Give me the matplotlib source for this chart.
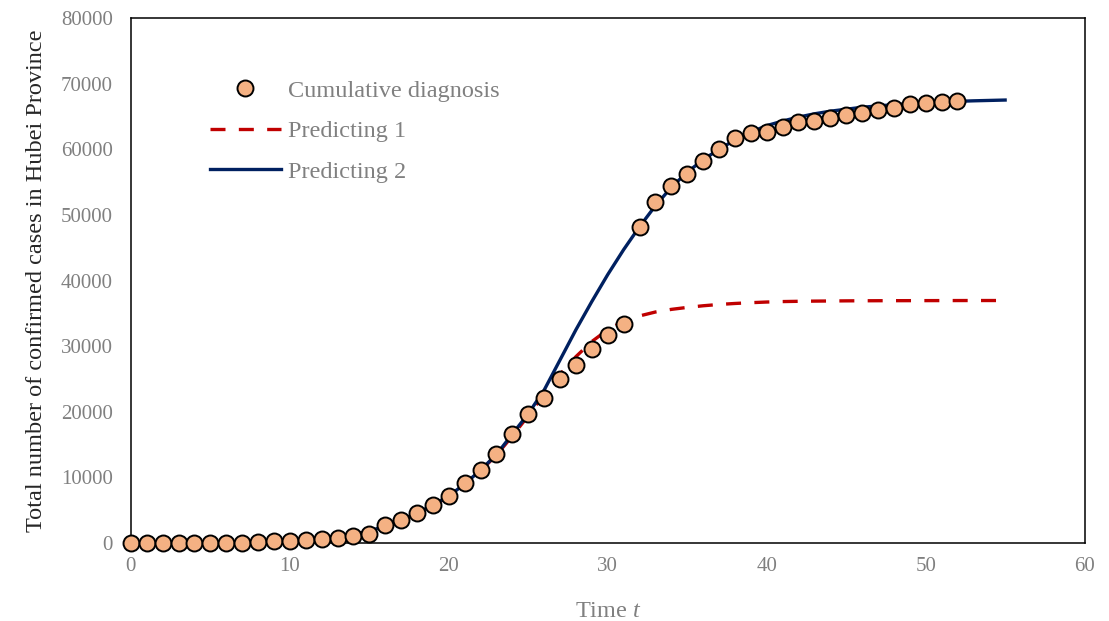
import matplotlib
matplotlib.use("Agg")
import matplotlib.pyplot as plt

# ---- data ----
days = list(range(0, 53))
cumulative = [41, 41, 41, 41, 41, 41, 45, 62, 198, 270, 375, 444, 549, 729, 1052,
              1423, 2714, 3554, 4586, 5806, 7153, 9074, 11177, 13522, 16678, 19665,
              22112, 24953, 27100, 29631, 31728, 33366, 48206, 51986, 54406, 56249,
              58182, 59989, 61682, 62457, 62662, 63454, 64084, 64287, 64786, 65187,
              65596, 65914, 66337, 66907, 67103, 67217, 67332]

pred_days = list(range(0, 56))
predict1 = [30, 40, 55, 70, 95, 125, 165, 215, 280, 370, 480, 620, 800, 1040, 1350,
            1780, 2500, 3350, 4400, 5650, 7100, 8900, 11000, 13400, 16300, 19400,
            22700, 25700, 28400, 30700, 32500, 33800, 34600, 35200, 35600, 35900,
            36150, 36350, 36500, 36620, 36720, 36790, 36830, 36860, 36880, 36900,
            36910, 36920, 36925, 36930, 36935, 36940, 36945, 36950, 36950, 36950]
predict2 = [30, 40, 55, 70, 95, 125, 165, 215, 280, 370, 480, 620, 800, 1040, 1350,
            1800, 2600, 3500, 4550, 5800, 7150, 9000, 11100, 13500, 16600, 19700,
            23300, 27900, 32500, 36800, 40900, 44700, 48200, 51400, 54200, 56500,
            58400, 60000, 61400, 62600, 63600, 64300, 64900, 65400, 65800, 66100,
            66400, 66600, 66800, 66950, 67100, 67200, 67300, 67380, 67440, 67500]

x_ticks = [0, 10, 20, 30, 40, 50, 60]
y_ticks = [0, 10000, 20000, 30000, 40000, 50000, 60000, 70000, 80000]

plt.rcParams['font.family'] = ['Liberation Serif', 'DejaVu Serif']
plt.rcParams['mathtext.fontset'] = 'custom'
plt.rcParams['mathtext.it'] = 'Liberation Serif:italic'
plt.rcParams['mathtext.rm'] = 'Liberation Serif'

fig = plt.figure(figsize=(11.09, 6.21), dpi=100)
ax = fig.add_axes([0.118, 0.1256, 0.860, 0.8454])

gray = '#808080'
ax.plot(pred_days, predict1, color='#C00000', lw=2.4, dashes=(4.5, 4.0),
        label='Predicting 1', zorder=2)
ax.plot(pred_days, predict2, color='#002060', lw=2.4, label='Predicting 2', zorder=2)
ax.plot(days, cumulative, linestyle='none', marker='o', markersize=11.5,
        markerfacecolor='#F4B183', markeredgecolor='black', markeredgewidth=1.4,
        label='Cumulative diagnosis', zorder=3, clip_on=False)

ax.set_xlim(0, 60)
ax.set_ylim(0, 80000)
ax.set_xticks(x_ticks)
ax.set_yticks(y_ticks)
ax.tick_params(axis='both', length=0, labelsize=15, labelcolor=gray)
ax.tick_params(axis='y', pad=13)
ax.tick_params(axis='x', pad=10)
for s in ax.spines.values():
    s.set_linewidth(1.1)
    s.set_color('black')

ax.set_xlabel('Time $t$', fontsize=17.5, color=gray, labelpad=18)
ax.set_ylabel('Total number of confirmed cases in Hubei Province', fontsize=17.5,
              color='#262626', labelpad=10)

handles, labels = ax.get_legend_handles_labels()
order = [2, 0, 1]
leg = ax.legend([handles[i] for i in order], [labels[i] for i in order],
                loc='upper left', bbox_to_anchor=(0.0603, 0.924), frameon=False,
                fontsize=17.5, labelcolor=gray, handlelength=2.9, handletextpad=0.3,
                labelspacing=0.76)

fig.savefig('out.png', dpi=100)
